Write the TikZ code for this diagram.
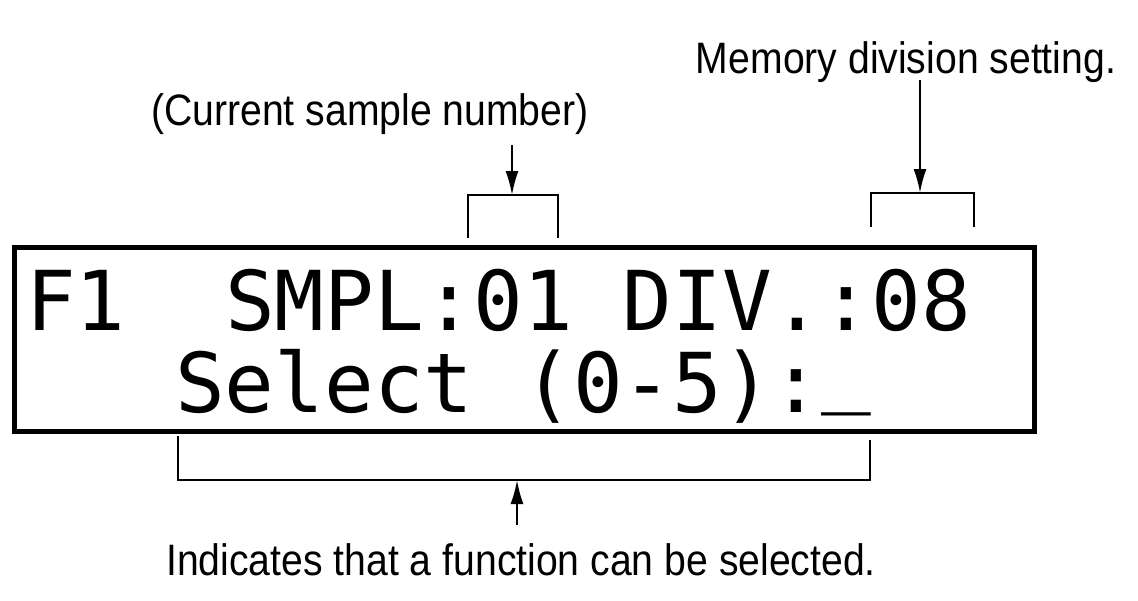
\documentclass[tikz,border=0pt]{standalone}
\usepackage{fontspec}
\setmainfont{Liberation Sans}[FakeStretch=0.89]
\newfontfamily\lcdfont{DejaVu Sans Mono}
\usetikzlibrary{arrows.meta}
\tikzset{
  lbl/.style={font=\fontsize{44}{50}\selectfont, inner sep=0pt, anchor=base},
  lcdtext/.style={font=\lcdfont\fontsize{82.6}{90}\selectfont, inner sep=0pt, anchor=base west},
  lcdframe/.style={draw, line width=5pt, inner sep=0pt, anchor=north west},
  brk/.style={line width=2.6pt},
  brkthin/.style={line width=2pt},
  arr/.style={line width=2.2pt, -{Latex[length=24pt,width=13pt]}}
}
\begin{document}
\begin{tikzpicture}[x=1pt,y=-1pt]
\useasboundingbox (0,0) rectangle (1138,600);
% LCD frame
\node[lcdframe, minimum width=1020pt, minimum height=184pt] (lcd) at (12,245) {};
% LCD rows
\node[lcdtext] (row1) at (26,330) {F1~~SMPL:01~DIV.:08};
\node[lcdtext] (row2) at (175,412) {Select~(0-5):\raisebox{16pt}{\_}};
% labels
\node[lbl] (cur) at (370,125) {(Current sample number)};
\node[lbl] (mem) at (906,73) {Memory division setting.};
\node[lbl] (ind) at (521,575) {Indicates that a function can be selected.};
% bracket 1
\coordinate (b1a) at (468,238);
\coordinate (b1b) at (468,195);
\coordinate (b1m) at (512,195);
\coordinate (b1c) at (558,195);
\coordinate (b1d) at (558,238);
\draw[brk] (b1a) -- (b1b) -- (b1c) -- (b1d);
\coordinate (a1) at (512,145);
\draw[arr] (a1) -- (b1m);
% bracket 2
\coordinate (b2a) at (871,227);
\coordinate (b2b) at (871,193);
\coordinate (b2m) at (920,193);
\coordinate (b2c) at (974,193);
\coordinate (b2d) at (974,227);
\draw[brk] (b2a) -- (b2b) -- (b2c) -- (b2d);
\coordinate (a2) at (920,80);
\draw[arr] (a2) -- (b2m);
% bottom bracket
\coordinate (b3a) at (178,436);
\coordinate (b3b) at (178,480);
\coordinate (b3m) at (517,480);
\coordinate (b3c) at (870,480);
\coordinate (b3d) at (870,440);
\draw[brkthin] (b3a) -- (b3b) -- (b3c) -- (b3d);
\coordinate (a3) at (517,525);
\draw[arr] (a3) -- (b3m);
\end{tikzpicture}
\end{document}
